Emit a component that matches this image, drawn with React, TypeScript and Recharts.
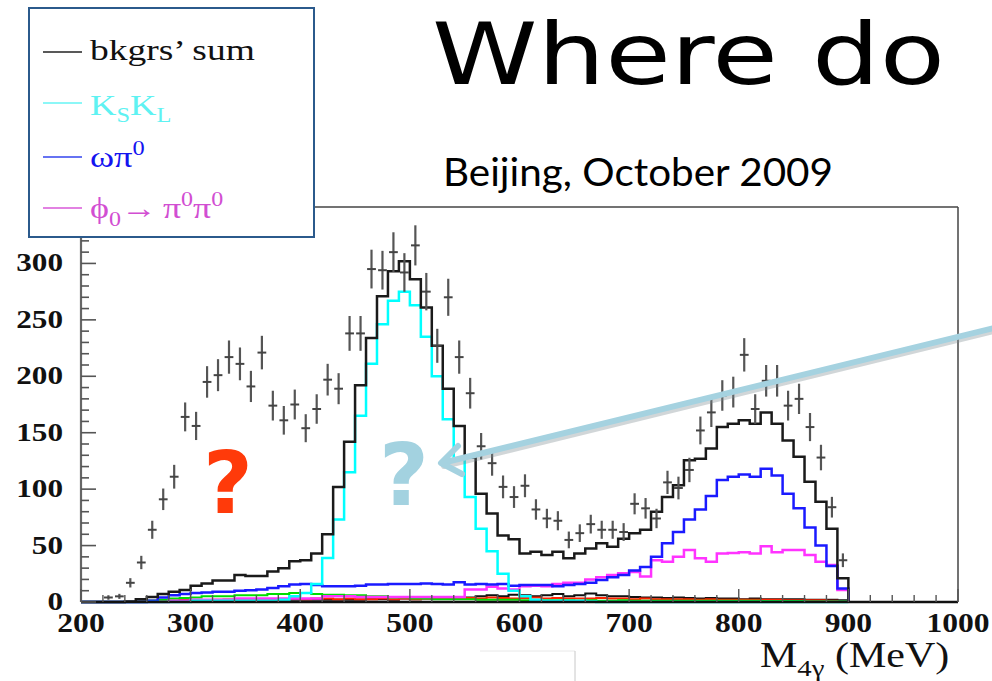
import React from 'react';
import { ComposedChart, Line, Scatter, ErrorBar, XAxis, YAxis, Legend } from 'recharts';

// histogram bin low edges (10 MeV bins), last edge closes the histogram
const binEdges = [
  200, 210, 220, 230, 240, 250, 260, 270, 280, 290, 300, 310, 320, 330, 340, 350, 360, 370, 380, 390,
  400, 410, 420, 430, 440, 450, 460, 470, 480, 490, 500, 510, 520, 530, 540, 550, 560, 570, 580, 590,
  600, 610, 620, 630, 640, 650, 660, 670, 680, 690, 700, 710, 720, 730, 740, 750, 760, 770, 780, 790,
  800, 810, 820, 830, 840, 850, 860, 870, 880, 890, 900,
];

const bkgSum = [
  0, 0, 0, 0, 0.5, 2.4, 4.4, 7, 9, 10.6, 14.5, 16.5, 19, 19, 24, 23, 23, 27, 30, 36,
  37, 43, 60, 102, 142, 192, 234, 271, 293, 302, 286, 261, 227, 189, 156, 128, 96, 78.5, 59, 55.5,
  43, 44.5, 41.6, 44.5, 38.7, 43, 47.5, 52, 49, 56, 61, 64, 80, 93, 103.5, 125.7, 127, 136, 155, 158,
  161, 158, 168, 158, 143, 128.6, 106.5, 88.8, 65, 21, 0,
];
const ksKl = [
  0, 0, 0, 0, 0, 0, 0, 0, 0, 0, 1, 1, 1, 1, 1, 1, 1, 1, 2, 5,
  8, 16, 39, 73, 115, 165, 211, 246, 267, 275, 263, 235, 200, 162, 126, 93, 65, 45, 25, 10,
  5, 2, 1, 1, 1, 1, 0.5, 0, 0, 0, 0, 0, 0, 0, 0, 0, 0, 0, 0, 0,
  0, 0, 0, 0, 0, 0, 0, 0, 0, 0, 0,
];
const omegaPi = [
  0, 0, 0, 0, 0, 0, 1, 4, 6, 7, 8, 8.5, 9, 9, 10, 10.5, 11, 12.5, 14, 15.5,
  16, 15, 14, 14, 14, 14.5, 15.5, 15.5, 16, 16, 16, 16.5, 16, 15.5, 17.5, 15.5, 16, 15.5, 16, 14.5,
  15, 15, 15, 14, 15, 16, 17, 19.5, 22, 24, 28, 31, 40, 52, 62, 73, 82, 94, 108, 111,
  113, 111, 118, 112, 96, 83, 66, 50, 32, 12, 0,
];
const phiPi = [
  0, 0, 0, 0, 0, 0, 0, 0, 1, 1, 2, 2, 2, 2, 3, 3, 3, 3, 3, 3,
  3, 3, 5, 5, 5, 4.5, 4.5, 4.5, 4.5, 4.5, 4.5, 4.5, 4.5, 4.5, 4.5, 11, 11, 13.5, 12, 11,
  14, 14.5, 14, 16, 17, 17, 20, 22, 24, 25.5, 26.5, 22.5, 37, 35.7, 40, 46, 38.7, 35.7, 43, 43.5,
  44, 43, 49.5, 44, 46, 46, 41.6, 35.7, 32.7, 10.6, 0,
];
const greenBkg = [
  0, 0, 0, 0, 0, 0, 1, 2, 3, 3.5, 4, 5, 5, 5, 6, 6, 6, 7, 7, 8,
  8, 7, 6.5, 6.5, 6, 6, 5, 5, 4, 4, 3, 3, 2.5, 2.5, 2.5, 2.5, 2, 2, 2, 2,
  1.5, 1.5, 1.5, 1.5, 1.5, 1, 1.5, 1, 1, 1.5, 1, 1, 1, 1, 1, 1, 1, 1, 1, 1,
  1, 1, 0.8, 0.8, 0.8, 0.8, 0.5, 0.5, 0.5, 0.5, 0,
];
const redBkg = [
  0, 0, 0, 0, 0, 0, 0.5, 1, 1, 1.5, 1.5, 1.5, 2, 2, 2, 2.5, 2, 2.5, 2.5, 3,
  2.5, 3, 3, 2.5, 3, 2.5, 2.5, 3, 2.5, 3, 2.5, 3, 3, 3.5, 3, 3.5, 3, 4, 3.5, 3,
  3.5, 4, 3, 3.5, 3, 3, 3, 3.5, 3, 3, 2.5, 3, 2.5, 2.5, 2.5, 2.5, 2, 2.5, 2, 2,
  2, 2, 2, 2, 1.5, 1.5, 1.5, 1.5, 1, 0.5, 0,
];
const otherBkg = [
  0, 0, 0, 0, 0, 0.5, 1, 1, 1, 1.5, 1.5, 1.5, 1.5, 2, 2, 2, 2, 2, 2, 2,
  2, 2, 2, 2, 2, 2, 2.5, 2.5, 2, 3, 2.5, 3, 3, 3.5, 3, 4, 5, 6, 5, 6.5,
  6, 5, 6, 7, 5, 6, 7.5, 6, 5, 5, 4.5, 4, 4, 3.5, 4, 3.5, 3, 3.5, 3, 3,
  2.5, 3, 2.5, 2.5, 2.5, 2.5, 2, 2, 2, 1.5, 0,
];

// data points (bin centres) and counts
const dataCenters = [
  225, 235, 245, 255, 265, 275, 285, 295, 305, 315, 325, 335, 345, 355, 365, 375, 385, 395, 405, 415,
  425, 435, 445, 455, 465, 475, 485, 495, 505, 515, 525, 535, 545, 555, 565, 575, 585, 595, 605, 615,
  625, 635, 645, 655, 665, 675, 685, 695, 705, 715, 725, 735, 745, 755, 765, 775, 785, 795, 805, 815,
  825, 835, 845, 855, 865, 875, 885, 895,
];
const dataCounts = [
  4, 5, 17, 35, 64, 91, 111, 164, 156, 195, 201, 217, 211, 191, 221, 174, 161, 175, 154, 171,
  197, 189, 238, 238, 295, 294, 310, 292, 316, 275, 227, 270, 217, 185, 138, 123, 102, 93, 103, 82,
  74, 72, 55, 61, 69, 64, 64, 62, 87, 83, 74, 106, 101, 117, 152, 168, 183, 186, 219, 171,
  196, 196, 174, 180, 155, 128, 84, 37,
];

const xTicks = [
  200, 220, 240, 260, 280, 300, 320, 340, 360, 380, 400, 420, 440, 460, 480, 500, 520, 540, 560, 580,
  600, 620, 640, 660, 680, 700, 720, 740, 760, 780, 800, 820, 840, 860, 880, 900, 920, 940, 960, 980, 1000,
];
const yTicks = [
  0, 10, 20, 30, 40, 50, 60, 70, 80, 90, 100, 110, 120, 130, 140, 150, 160, 170, 180,
  190, 200, 210, 220, 230, 240, 250, 260, 270, 280, 290, 300, 310, 320, 330, 340, 350,
];

const histRows = binEdges.map((x, i) => ({
  x,
  sum: bkgSum[i],
  ks: ksKl[i],
  omega: omegaPi[i],
  phi: phiPi[i],
  green: greenBkg[i],
  red: redBkg[i],
  other: otherBkg[i],
}));

// Poisson errors on the counts, x bar spans part of the bin
const pointRows = dataCenters.map((x, i) => ({
  x,
  y: dataCounts[i],
  ey: Math.sqrt(dataCounts[i]),
  ex: 4,
}));

const SERIF = '"Liberation Serif", "DejaVu Serif", serif';

const YTick = (props: any) => {
  const { x, y, payload } = props;
  const v = payload.value;
  const major = v % 50 === 0;
  const tx = x - 18;
  return (
    <g>
      <line x1={x} x2={x + (major ? 15 : 8)} y1={y} y2={y} stroke="#555" strokeWidth={1.6} />
      {major && v <= 300 && (
        <text
          transform={`translate(${tx} ${y + 8}) scale(1.2 1)`}
          textAnchor="end"
          fontFamily={SERIF}
          fontWeight="bold"
          fontSize={26}
          fill="#111"
        >
          {v}
        </text>
      )}
    </g>
  );
};

const XTick = (props: any) => {
  const { x, y, payload } = props;
  const v = payload.value;
  const major = v % 100 === 0;
  return (
    <g>
      <line x1={x} x2={x} y1={y} y2={y - (major ? 13 : 7)} stroke="#555" strokeWidth={1.4} />
      {major && (
        <text
          transform={`translate(${x} ${y + 30}) scale(1.17 1)`}
          textAnchor="middle"
          fontFamily={SERIF}
          fontWeight="bold"
          fontSize={27}
          fill="#111"
        >
          {v}
        </text>
      )}
    </g>
  );
};

const AxisTitle = () => (
  <text transform="translate(760 667) scale(1.2 1)" fontFamily={SERIF} fontSize={35} fill="#111">
    M
    <tspan fontSize={24} dy={9}>4γ</tspan>
    <tspan dy={-9}> (MeV)</tspan>
  </text>
);

const LegendBox = () => (
  <svg width={287} height={231} style={{ display: 'block' }}>
    <rect x={1} y={1} width={285} height={229} fill="#fff" stroke="#2b5a8c" strokeWidth={2} />
    <line x1={15} x2={54} y1={45} y2={45} stroke="#222" strokeWidth={1.6} />
    <text transform="translate(62 53) scale(1.25 1)" fontFamily={SERIF} fontSize={30} fill="#111">
      bkgrs’ sum
    </text>
    <line x1={15} x2={54} y1={96} y2={96} stroke="#66f5f5" strokeWidth={1.6} />
    <text transform="translate(62 108) scale(1.22 1)" fontFamily={SERIF} fontSize={30} fill="#5ef2f2">
      K<tspan fontSize={20} dy={7}>S</tspan>
      <tspan dy={-7}>K</tspan>
      <tspan fontSize={20} dy={7}>L</tspan>
    </text>
    <line x1={15} x2={54} y1={150} y2={150} stroke="#3344ee" strokeWidth={1.6} />
    <text transform="translate(62 160) scale(1.22 1)" fontFamily={SERIF} fontSize={30} fill="#1414f0">
      ωπ<tspan fontSize={20} dy={-12}>0</tspan>
    </text>
    <line x1={15} x2={54} y1={201} y2={201} stroke="#d858d8" strokeWidth={1.6} />
    <text transform="translate(62 211) scale(1.2 1)" fontFamily={SERIF} fontSize={30} fill="#d24ed2">
      ϕ<tspan fontSize={20} dy={8}>0</tspan>
      <tspan dy={-8}>→</tspan>
      <tspan dx={5}>π</tspan>
      <tspan fontSize={20} dy={-12}>0</tspan>
      <tspan dy={12}>π</tspan>
      <tspan fontSize={20} dy={-12}>0</tspan>
    </text>
  </svg>
);

export default function App() {
  return (
    <div style={{ position: 'absolute', left: 0, top: 0, width: 992, height: 681, background: '#fff', overflow: 'hidden' }}>
      <ComposedChart
        width={992}
        height={681}
        data={histRows}
        margin={{ top: 206, right: 33, bottom: 78, left: 80 }}
      >
        <XAxis
          dataKey="x"
          type="number"
          domain={[200, 1000]}
          ticks={xTicks}
          interval={0}
          height={1}
          tickSize={0}
          tickMargin={0}
          tickLine={false}
          tick={<XTick />}
          axisLine={{ stroke: '#111', strokeWidth: 2.5 }}
          label={{ content: () => <AxisTitle /> }}
        />
        <XAxis xAxisId="top" orientation="top" type="number" domain={[200, 1000]} height={1} tick={false} tickLine={false} axisLine={{ stroke: '#444', strokeWidth: 1.5 }} />
        <YAxis
          type="number"
          domain={[0, 350]}
          ticks={yTicks}
          interval={0}
          width={1}
          tickSize={0}
          tickMargin={0}
          tickLine={false}
          tick={<YTick />}
          axisLine={{ stroke: '#666', strokeWidth: 2.2 }}
        />
        <YAxis yAxisId="right" orientation="right" type="number" domain={[0, 350]} width={1} tick={false} tickLine={false} axisLine={{ stroke: '#444', strokeWidth: 1.5 }} />
        <Legend layout="vertical" align="center" verticalAlign="middle" content={() => <LegendBox />} wrapperStyle={{ left: 28, top: 7, width: 287, height: 231 }} />
        <Line type="stepAfter" dataKey="other" stroke="#111" strokeWidth={2} dot={false} activeDot={false} isAnimationActive={false} />
        <Line type="stepAfter" dataKey="red" stroke="#ff2200" strokeWidth={2} dot={false} activeDot={false} isAnimationActive={false} />
        <Line type="stepAfter" dataKey="green" stroke="#00dd00" strokeWidth={2} dot={false} activeDot={false} isAnimationActive={false} />
        <Line type="stepAfter" dataKey="phi" stroke="#ff33ff" strokeWidth={2.5} dot={false} activeDot={false} isAnimationActive={false} />
        <Line type="stepAfter" dataKey="omega" stroke="#1a1aff" strokeWidth={2.5} dot={false} activeDot={false} isAnimationActive={false} />
        <Line type="stepAfter" dataKey="ks" stroke="#00ffff" strokeWidth={2.5} dot={false} activeDot={false} isAnimationActive={false} />
        <Line type="stepAfter" dataKey="sum" stroke="#1a1a1a" strokeWidth={2.5} dot={false} activeDot={false} isAnimationActive={false} />
        <Scatter data={pointRows} dataKey="y" shape={() => <g />} isAnimationActive={false}>
          <ErrorBar dataKey="ey" direction="y" width={0} stroke="#555" strokeWidth={2.2} isAnimationActive={false} />
          <ErrorBar dataKey="ex" direction="x" width={0} stroke="#444" strokeWidth={2} isAnimationActive={false} />
        </Scatter>
      </ComposedChart>

      <svg width={992} height={681} style={{ position: 'absolute', left: 0, top: 0, pointerEvents: 'none' }}>
        <text x={432} y={84} fontFamily='"Comic Sans MS", "DejaVu Sans", sans-serif' fontSize={86} textLength={513} lengthAdjust="spacingAndGlyphs" fill="#000">
          Where do
        </text>
        <text x={443} y={186} fontFamily='Lato, "Open Sans", sans-serif' fontSize={38} textLength={390} lengthAdjust="spacingAndGlyphs" fill="#000">
          Beijing, October 2009
        </text>
        <text x={228} y={513} textAnchor="middle" fontFamily='"DejaVu Sans", sans-serif' fontWeight="bold" fontSize={86} fill="#ff3a0a">
          ?
        </text>
        <text x={404} y={505} textAnchor="middle" fontFamily='"DejaVu Sans", sans-serif' fontWeight="bold" fontSize={86} fill="#a3d2e0">
          ?
        </text>
        <g stroke="#7a8a90" strokeOpacity={0.35} strokeWidth={6} fill="none" strokeLinecap="round" strokeLinejoin="round">
          <line x1={994} y1={331} x2={444} y2={466} />
        </g>
        <g stroke="#a5d2e0" strokeWidth={6} fill="none" strokeLinecap="round" strokeLinejoin="round">
          <line x1={994} y1={328} x2={442} y2={463} />
          <polyline points="458,446 441,463 462,474" />
        </g>
        <line x1={480} x2={575} y1={651} y2={651} stroke="#e8e8e8" strokeWidth={1} />
        <line x1={575} x2={575} y1={651} y2={681} stroke="#c8c8c8" strokeWidth={1} />
      </svg>
    </div>
  );
}
